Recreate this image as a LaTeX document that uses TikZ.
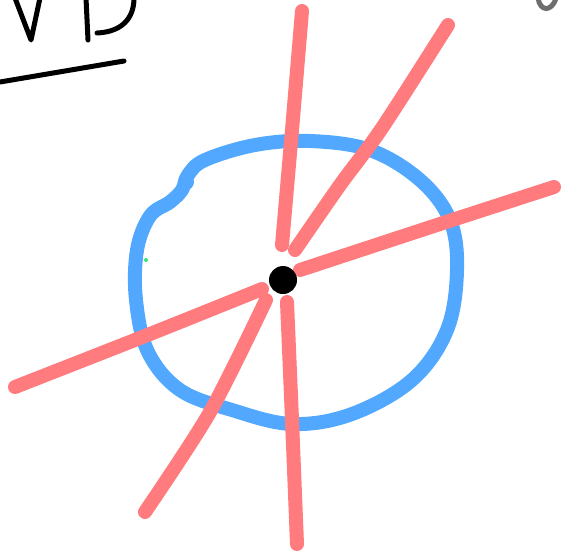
\documentclass[tikz,border=0pt]{standalone}
\usepackage{tikz}
\usetikzlibrary{positioning,calc}
\definecolor{penred}{HTML}{FF7B7E}
\definecolor{penblue}{HTML}{52A8FF}
\definecolor{pengrey}{HTML}{6E6E6E}
\definecolor{pengreen}{HTML}{2EE87A}
\begin{document}
\begin{tikzpicture}[
  x=1pt, y=-1pt,
  redstroke/.style={draw=penred, line width=14pt, line cap=round, line join=round},
  bluestroke/.style={draw=penblue, line width=14pt, line cap=round, line join=round},
  inkstroke/.style={draw=black, line width=5pt, line cap=round, line join=round},
  greystroke/.style={draw=pengrey, line width=5pt, line cap=round},
  centerdot/.style={circle, fill=black, inner sep=0pt, minimum size=28pt}
]
\useasboundingbox (0,0) rectangle (562,558);

% handwriting at the top
\draw[inkstroke] (15,-2) -- (31,40) -- (40,-2);
\draw[inkstroke] (86,-2) -- (88,40);
\draw[inkstroke] (97,33) .. controls (120,32) and (134,20) .. (134,-2);
\draw[inkstroke] (0,82) -- (124,61);
\draw[greystroke] (538,-2) .. controls (540,12) and (552,12) .. (556,-2);

% circle
\draw[bluestroke] plot[smooth cycle, tension=0.6] coordinates {
  (310,141) (370,150) (420,180) (450,220) (457,270) (447,330) (412,380)
  (352,414) (292,424) (232,410) (180,390) (148,352) (136,300) (137,250)
  (150,216) (170,202) (182,190) (188,175) (205,160) (255,145)};
\fill[penblue] (186,182) circle (8);

% red lines through the centre
\coordinate (c) at (283,280);
\draw[redstroke] plot[smooth] coordinates {(302,11) (292,130) (282,245)};
\draw[redstroke] plot[smooth] coordinates {(448,25) (382,128) (340,185) (295,250)};
\draw[redstroke] plot[smooth] coordinates {(554,187) (440,224) (300,270)};
\draw[redstroke] plot[smooth] coordinates {(15,387) (150,334) (262,289)};
\draw[redstroke] plot[smooth] coordinates {(145,512) (210,412) (266,300)};
\draw[redstroke] plot[smooth] coordinates {(287,302) (292,420) (297,544)};

\node[centerdot] (dot) at (c) {};
\fill[pengreen] (146,260) circle (2);
\end{tikzpicture}
\end{document}
